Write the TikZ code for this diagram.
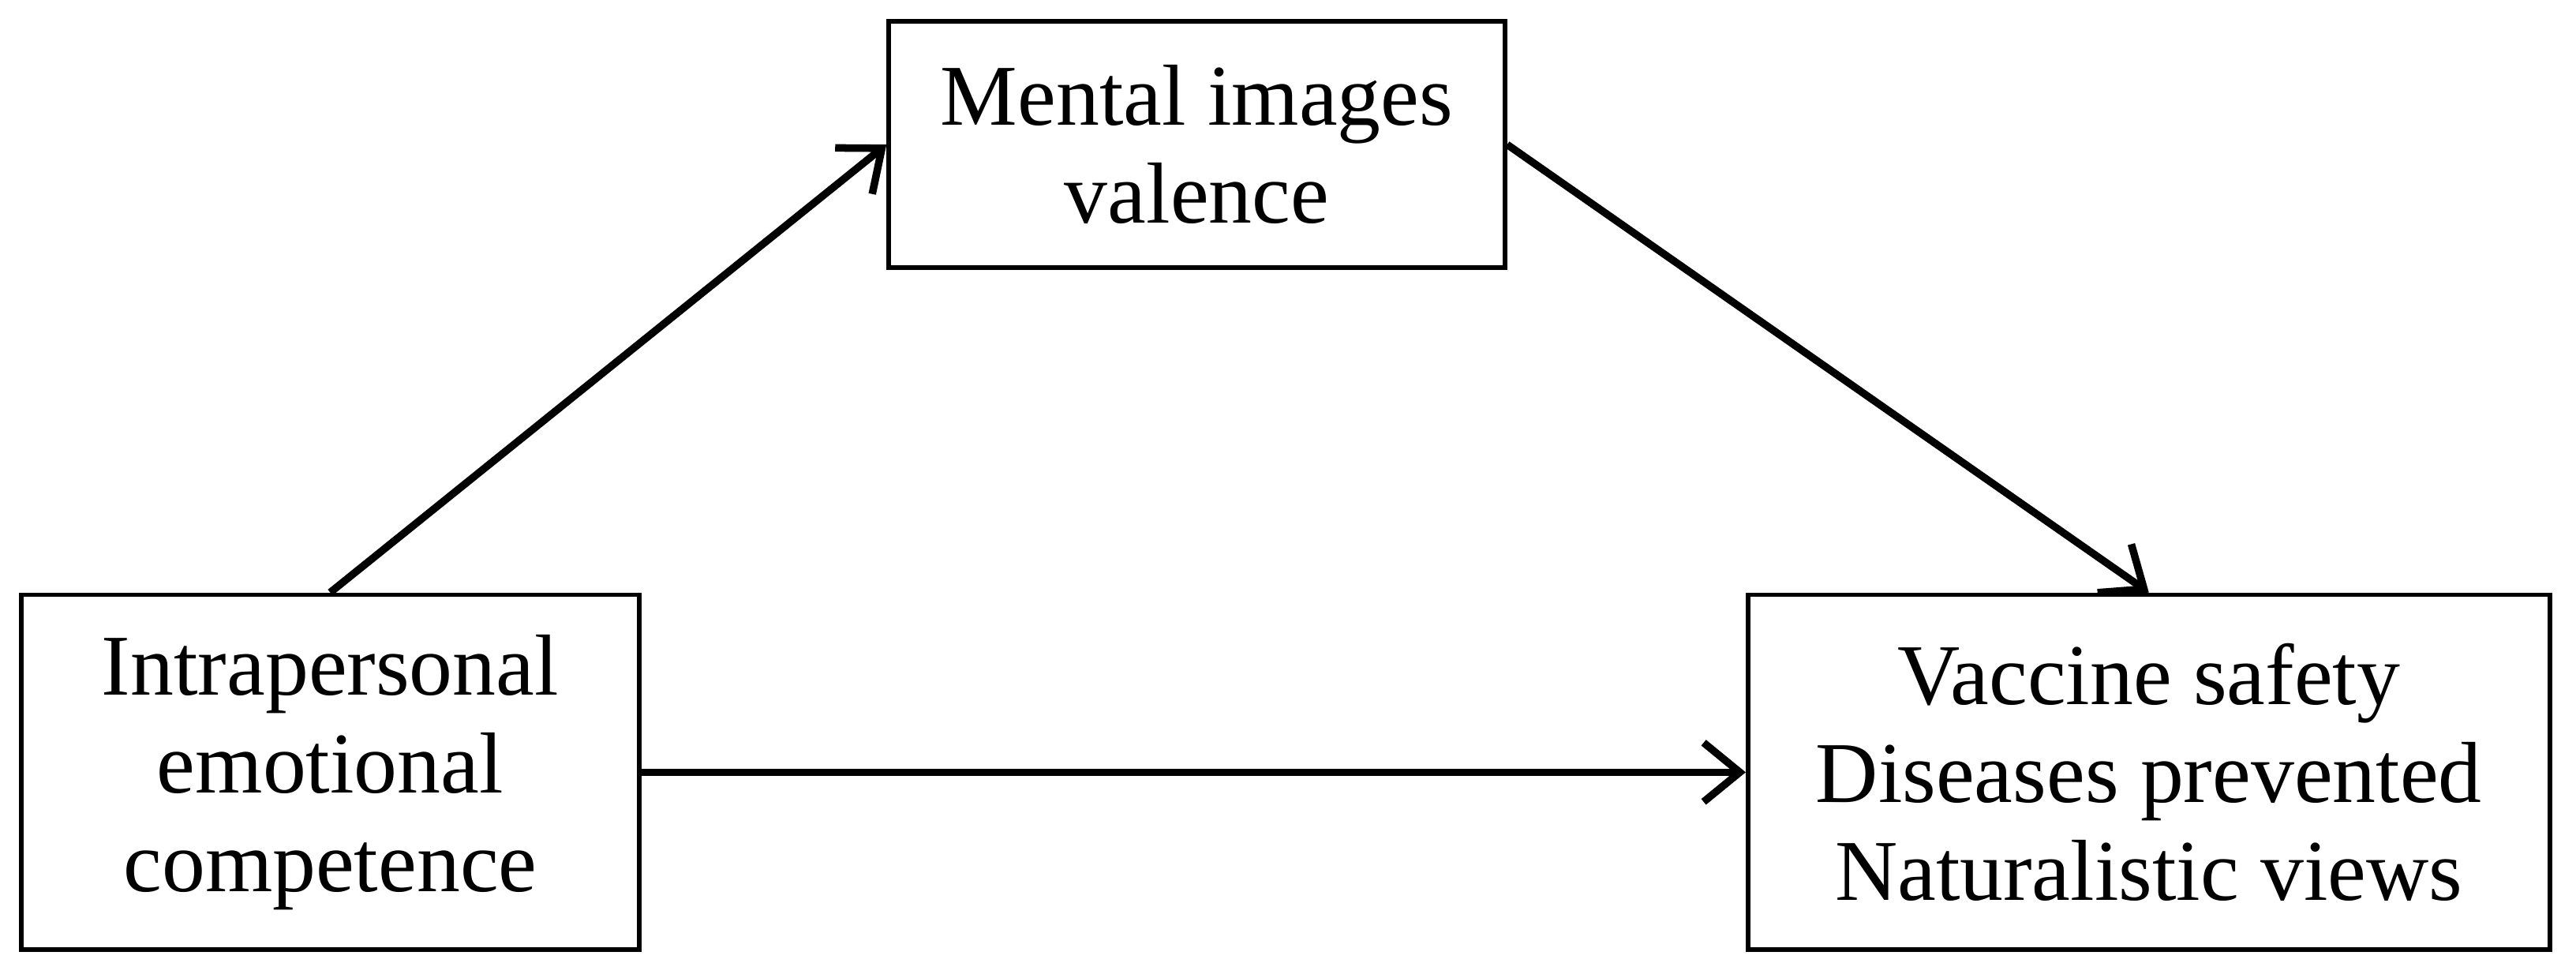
\documentclass[tikz,border=0pt]{standalone}
\usepackage{fontspec}
\setmainfont{Liberation Serif}
\usetikzlibrary{positioning,arrows.meta}

\begin{document}
\begin{tikzpicture}[x=1cm,y=1cm,
		box/.style={draw, line width=0.8pt, align=center, inner sep=0pt,
			font=\fontsize{15}{17}\selectfont},
		link/.style={-{Straight Barb[length=2.2mm,width=3.6mm]}, line width=1.3pt}]
		\useasboundingbox (0,0) rectangle (15.68,5.95);

		\node[box, minimum width=3.75cm, minimum height=1.5cm] (m) at (7.285,5.07) {Mental images\\valence};
		\node[box, minimum width=3.76cm, minimum height=2.16cm] (i) at (2.01,1.25) {Intrapersonal\\emotional\\competence};
		\node[box, minimum width=4.88cm, minimum height=2.16cm] (v) at (13.08,1.25) {Vaccine safety\\Diseases prevented\\Naturalistic views};

		\draw[link] (i.north) -- (m.west);
		\draw[link] (m.east) -- (v.north);
		\draw[link] (i.east) -- (v.west);
	\end{tikzpicture}
\end{document}
